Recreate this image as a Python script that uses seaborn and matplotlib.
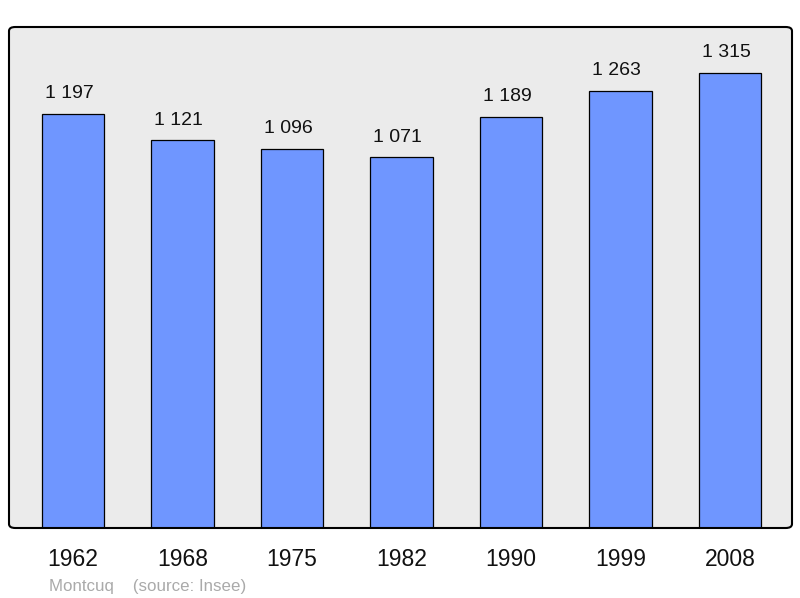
import matplotlib
matplotlib.use("Agg")
import matplotlib.pyplot as plt
from matplotlib.patches import FancyBboxPatch
import seaborn as sns
import pandas as pd

years = ["1962", "1968", "1975", "1982", "1990", "1999", "2008"]
population = [1197, 1121, 1096, 1071, 1189, 1263, 1315]
labels = ["1 197", "1 121", "1 096", "1 071", "1 189", "1 263", "1 315"]

sns.set_style("white")
plt.rcParams["font.family"] = ["Liberation Sans", "DejaVu Sans"]

df = pd.DataFrame({"year": years, "pop": population})

fig = plt.figure(figsize=(8, 5.98), dpi=100)
ax = fig.add_axes([9 / 800, 70 / 598, 783 / 800, 501 / 598])

sns.barplot(data=df, x="year", y="pop", order=years, color="#6f96ff",
            saturation=1, width=0.57, edgecolor="black", linewidth=0.9, ax=ax)

ax.set_xlim(-0.585, 6.565)
ax.set_ylim(0, 1448)
ax.set_facecolor("none")
for s in ax.spines.values():
    s.set_visible(False)

# rounded frame: fill behind, outline on top
bg = FancyBboxPatch((0, 0), 1, 1, boxstyle="round,pad=0,rounding_size=0.008",
                    transform=ax.transAxes, facecolor="#ebebeb", edgecolor="none",
                    zorder=0, clip_on=False)
ax.add_patch(bg)
edge = FancyBboxPatch((0, 0), 1, 1, boxstyle="round,pad=0,rounding_size=0.008",
                      transform=ax.transAxes, facecolor="none", edgecolor="black",
                      linewidth=1.5, zorder=5, clip_on=False)
ax.add_patch(edge)

for i, (v, lab) in enumerate(zip(population, labels)):
    ax.annotate(lab, (i, v), xytext=(-3, 14.5), textcoords="offset points",
                ha="center", va="center", fontsize=14, color="#111111")

ax.set_xlabel("")
ax.set_ylabel("")
ax.set_yticks([])
ax.tick_params(axis="x", length=0, pad=14.5, labelsize=16.5, labelcolor="#111111")

fig.text(49 / 800, 1 - 586 / 598, "Montcuq    (source: Insee)", fontsize=12.2,
         color="#aaaaaa", va="center", ha="left")

fig.savefig("out.png", dpi=100)
